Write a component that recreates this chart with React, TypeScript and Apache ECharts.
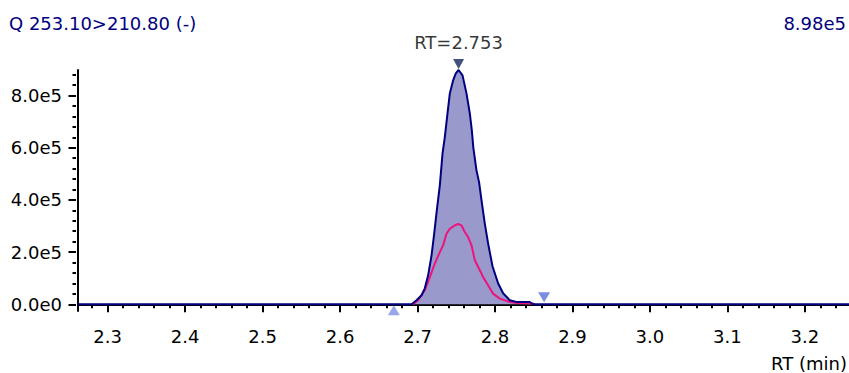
import React, { useEffect, useRef } from "react";
import * as echarts from "echarts";

// ---- data ----
const quantTimes = [2.2617, 2.6923, 2.6987, 2.7052, 2.7094, 2.7137, 2.7181, 2.7217, 2.7249, 2.7288, 2.7323, 2.7352, 2.7387, 2.7417, 2.7459, 2.7494, 2.753, 2.7581, 2.7632, 2.7675, 2.7701, 2.772, 2.7761, 2.7795, 2.7826, 2.7868, 2.7911, 2.7968, 2.804, 2.8105, 2.8191, 2.8277, 2.8449, 2.8488, 3.257];
const quantValues = [0, 0, 15300, 34500, 61300, 111100, 187700, 275900, 360200, 455900, 578500, 639800, 731800, 808400, 858200, 885100, 898000, 877400, 808400, 731800, 666700, 601500, 513400, 467400, 398500, 310300, 233700, 145600, 80500, 42100, 15300, 8800, 8800, 0, 0];

const qualTimes = [2.6943, 2.7008, 2.7094, 2.7159, 2.7223, 2.7288, 2.733, 2.7374, 2.7417, 2.7481, 2.7524, 2.7568, 2.761, 2.7653, 2.7697, 2.774, 2.7804, 2.7847, 2.7911, 2.7975, 2.8062, 2.8191, 2.8277, 2.8492, 2.8514];
const qualValues = [0, 15300, 53600, 104200, 155600, 200000, 225700, 270500, 289700, 302700, 307700, 302700, 277000, 257900, 226100, 168600, 130300, 104200, 72800, 40900, 21800, 8800, 5000, 2700, 0];

const apexRT = 2.753;
const integrationStart = 2.6694;
const integrationEnd = 2.8634;

const xMajorTicks = [2.3, 2.4, 2.5, 2.6, 2.7, 2.8, 2.9, 3.0, 3.1, 3.2];
const xMinorTicks = [2.28, 2.32, 2.34, 2.36, 2.38, 2.42, 2.44, 2.46, 2.48, 2.52, 2.54, 2.56, 2.58, 2.62, 2.64, 2.66, 2.68, 2.72, 2.74, 2.76, 2.78, 2.82, 2.84, 2.86, 2.88, 2.92, 2.94, 2.96, 2.98, 3.02, 3.04, 3.06, 3.08, 3.12, 3.14, 3.16, 3.18, 3.22, 3.24];
const yMajorTicks = [0, 200000, 400000, 600000, 800000];
const yMinorTicks = [40000, 80000, 120000, 160000, 240000, 280000, 320000, 360000, 440000, 480000, 520000, 560000, 640000, 680000, 720000, 760000, 840000, 880000];

const titleText = "Q 253.10>210.80 (-)";
const xAxisTitle = "RT (min)";

const X_MIN = 2.2617;
const X_MAX = 3.257;
const Y_MIN = -25700;
const Y_MAX = 898000;

const FONT = '"DejaVu Sans", sans-serif';
const NAVY = "#000080";

export default function App() {
  const ref = useRef<HTMLDivElement>(null);
  useEffect(() => {
    if (!ref.current) return;
    const chart = echarts.init(ref.current, undefined, { renderer: "svg" });
    const quantData = quantTimes.map((t, i) => [t, quantValues[i]]);
    const qualData = qualTimes.map((t, i) => [t, qualValues[i]]);
    const maxVal = Math.max(...quantValues);
    const apexVal = quantValues[quantTimes.indexOf(apexRT)];
    const maxLabel = (maxVal / 1e5).toFixed(2) + "e5";

    const baseX = {
      type: "value",
      min: X_MIN,
      max: X_MAX,
      splitLine: { show: false },
    };
    const baseY = {
      type: "value",
      min: Y_MIN,
      max: Y_MAX,
      splitLine: { show: false },
    };

    chart.setOption({
      animation: false,
      backgroundColor: "#ffffff",
      title: [
        {
          text: titleText,
          left: 9,
          top: 14,
          padding: 0,
          textStyle: { fontFamily: FONT, fontSize: 18, fontWeight: "normal", color: NAVY },
        },
        {
          text: maxLabel,
          right: 3,
          top: 14,
          padding: 0,
          textStyle: { fontFamily: FONT, fontSize: 18, fontWeight: "normal", color: NAVY },
        },
        {
          text: xAxisTitle,
          right: 2,
          top: 354,
          padding: 0,
          textStyle: { fontFamily: FONT, fontSize: 18, fontWeight: "normal", color: "#000" },
        },
      ],
      grid: { left: 78, right: 0, top: 70, bottom: 62 },
      xAxis: [
        {
          ...baseX,
          axisLine: { show: true, lineStyle: { color: "#000", width: 2 } },
          axisTick: { show: false },
          axisLabel: { show: false },
        },
        {
          ...baseX,
          position: "bottom",
          offset: 3,
          axisLine: { show: false },
          axisTick: { show: true, customValues: xMajorTicks, length: 8, lineStyle: { color: "#000", width: 2 } },
          axisLabel: {
            show: true,
            customValues: xMajorTicks,
            margin: 13,
            fontFamily: FONT,
            fontSize: 18,
            color: "#000",
            formatter: (v: number) => v.toFixed(1),
          },
        },
        {
          ...baseX,
          position: "bottom",
          offset: 3,
          axisLine: { show: false },
          axisTick: { show: true, customValues: xMinorTicks, length: 4, lineStyle: { color: "#000", width: 2 } },
          axisLabel: { show: false },
        },
      ],
      yAxis: [
        {
          ...baseY,
          axisLine: { show: true, lineStyle: { color: "#000", width: 2 } },
          axisTick: { show: false },
          axisLabel: { show: false },
        },
        {
          ...baseY,
          position: "left",
          offset: 2,
          axisLine: { show: false },
          axisTick: { show: true, customValues: yMajorTicks, length: 7.5, lineStyle: { color: "#000", width: 2 } },
          axisLabel: {
            show: true,
            customValues: yMajorTicks,
            margin: 14,
            fontFamily: FONT,
            fontSize: 18,
            color: "#000",
            formatter: (v: number) => (v === 0 ? "0.0e0" : (v / 1e5).toFixed(1) + "e5"),
          },
        },
        {
          ...baseY,
          position: "left",
          offset: 2,
          axisLine: { show: false },
          axisTick: { show: true, customValues: yMinorTicks, length: 3.5, lineStyle: { color: "#000", width: 2 } },
          axisLabel: { show: false },
        },
      ],
      series: [
        {
          type: "line",
          name: "area",
          data: quantData,
          symbol: "none",
          lineStyle: { width: 0 },
          areaStyle: { color: "#9999cc", opacity: 1 },
          z: 1,
          silent: true,
        },
        {
          type: "line",
          name: "qualifier",
          data: qualData,
          symbol: "none",
          lineStyle: { color: "#f0127e", width: 2 },
          z: 2,
        },
        {
          type: "line",
          name: "quantifier",
          data: quantData,
          symbol: "none",
          lineStyle: { color: NAVY, width: 2 },
          z: 3,
        },
        {
          type: "scatter",
          name: "apex",
          clip: false,
          z: 5,
          data: [[apexRT, apexVal]],
          symbol: "triangle",
          symbolRotate: 180,
          symbolSize: [11, 10],
          symbolOffset: [0, -6],
          itemStyle: { color: "#14275a" },
          label: {
            show: true,
            position: "top",
            distance: 8,
            fontFamily: FONT,
            fontSize: 18,
            color: "#000",
            formatter: "RT=" + apexRT.toFixed(3),
          },
        },
        {
          type: "scatter",
          name: "integration",
          clip: false,
          z: 5,
          symbol: "triangle",
          symbolSize: [12, 10],
          data: [
            { value: [integrationStart, 0], symbolOffset: [0, 6], itemStyle: { color: "#7f90e6" } },
            { value: [integrationEnd, 0], symbolRotate: 180, symbolOffset: [0, -7], itemStyle: { color: "#5a72db" } },
          ],
        },
      ],
    });
    return () => chart.dispose();
  }, []);
  return (
    <div
      ref={ref}
      style={{ position: "absolute", left: 0, top: 0, width: 849, height: 373, background: "#fff" }}
    />
  );
}
